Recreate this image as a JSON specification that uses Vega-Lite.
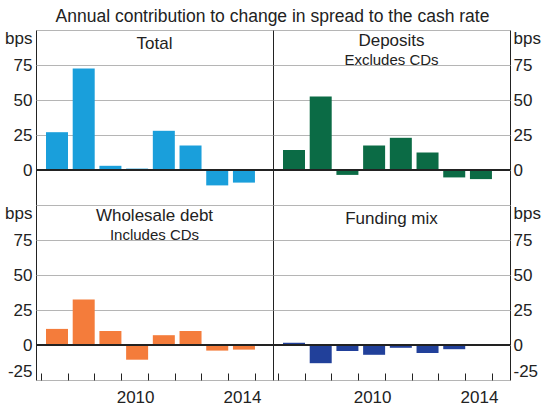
{
  "$schema": "https://vega.github.io/schema/vega-lite/v6.json",
  "padding": {"left": 4, "top": 8, "right": 5, "bottom": 0},
  "title": {"text": "Annual contribution to change in spread to the cash rate", "fontSize": 17.5, "anchor": "middle", "offset": 3},
  "datasets": {
    "bars": [
      {"panel": "Total", "year": 2007, "value": 27},
      {"panel": "Total", "year": 2008, "value": 72.5},
      {"panel": "Total", "year": 2009, "value": 3},
      {"panel": "Total", "year": 2010, "value": 1},
      {"panel": "Total", "year": 2011, "value": 28},
      {"panel": "Total", "year": 2012, "value": 17.5},
      {"panel": "Total", "year": 2013, "value": -11},
      {"panel": "Total", "year": 2014, "value": -9},
      {"panel": "Deposits", "year": 2007, "value": 14.3},
      {"panel": "Deposits", "year": 2008, "value": 52.5},
      {"panel": "Deposits", "year": 2009, "value": -3.5},
      {"panel": "Deposits", "year": 2010, "value": 17.5},
      {"panel": "Deposits", "year": 2011, "value": 23},
      {"panel": "Deposits", "year": 2012, "value": 12.5},
      {"panel": "Deposits", "year": 2013, "value": -5.3},
      {"panel": "Deposits", "year": 2014, "value": -6.5},
      {"panel": "Wholesale", "year": 2007, "value": 11.5},
      {"panel": "Wholesale", "year": 2008, "value": 32.5},
      {"panel": "Wholesale", "year": 2009, "value": 10},
      {"panel": "Wholesale", "year": 2010, "value": -10.5},
      {"panel": "Wholesale", "year": 2011, "value": 7},
      {"panel": "Wholesale", "year": 2012, "value": 10},
      {"panel": "Wholesale", "year": 2013, "value": -4},
      {"panel": "Wholesale", "year": 2014, "value": -3.3},
      {"panel": "Mix", "year": 2007, "value": 1.6},
      {"panel": "Mix", "year": 2008, "value": -13},
      {"panel": "Mix", "year": 2009, "value": -4.3},
      {"panel": "Mix", "year": 2010, "value": -7},
      {"panel": "Mix", "year": 2011, "value": -2},
      {"panel": "Mix", "year": 2012, "value": -5.7},
      {"panel": "Mix", "year": 2013, "value": -3},
      {"panel": "Mix", "year": 2014, "value": 0.3}
    ]
  },
  "data": {"name": "bars"},
  "columns": 2,
  "spacing": 0,
  "bounds": "flush",
  "concat": [
    {
      "width": 237, "height": 175,
      "title": {"text": "Total", "offset": -24},
      "transform": [{"filter": "datum.panel === 'Total'"}],
      "layer": [
        {
          "mark": {"type": "bar", "color": "#1a9fdb", "size": 22, "xOffset": 16},
          "encoding": {
            "x": {"field": "year", "type": "quantitative", "scale": {"domain": [2007, 2015.5], "nice": false, "zero": false}, "axis": null},
            "y": {"field": "value", "type": "quantitative", "scale": {"domain": [-25, 100], "nice": false, "zero": false},
                  "axis": {"orient": "left", "values": [0, 25, 50, 75, 100], "tickCount": 20, "labelExpr": "datum.value == 100 ? 'bps' : '' + datum.value", "labelFlush": true, "labelOverlap": false, "ticks": false, "domain": false, "grid": true, "title": null, "labelPadding": 4}}
          }
        },
        {"mark": {"type": "rule", "color": "#222", "strokeWidth": 1.2}, "encoding": {"y": {"datum": 0}}}
      ]
    },
    {
      "width": 237, "height": 175,
      "title": {"text": "Deposits", "subtitle": "Excludes CDs", "offset": -40},
      "transform": [{"filter": "datum.panel === 'Deposits'"}],
      "layer": [
        {
          "mark": {"type": "bar", "color": "#0b6b45", "size": 22, "xOffset": 16},
          "encoding": {
            "x": {"field": "year", "type": "quantitative", "scale": {"domain": [2007, 2015.5], "nice": false, "zero": false}, "axis": null},
            "y": {"field": "value", "type": "quantitative", "scale": {"domain": [-25, 100], "nice": false, "zero": false},
                  "axis": {"orient": "right", "values": [0, 25, 50, 75, 100], "tickCount": 20, "labelExpr": "datum.value == 100 ? 'bps' : '' + datum.value", "labelFlush": true, "labelOverlap": false, "ticks": false, "domain": false, "grid": true, "title": null, "labelPadding": 3}}
          }
        },
        {"mark": {"type": "rule", "color": "#222", "strokeWidth": 1.2}, "encoding": {"y": {"datum": 0}}}
      ]
    },
    {
      "width": 237, "height": 175,
      "title": {"text": "Wholesale debt", "subtitle": "Includes CDs", "offset": -40},
      "transform": [{"filter": "datum.panel === 'Wholesale'"}],
      "layer": [
        {
          "mark": {"type": "bar", "color": "#f47c3b", "size": 22, "xOffset": 16},
          "encoding": {
            "x": {"field": "year", "type": "quantitative", "scale": {"domain": [2007, 2015.5], "nice": false, "zero": false},
                  "axis": {"values": [2007, 2008, 2009, 2010, 2011, 2012, 2013, 2014, 2015], "tickCount": 20, "labelExpr": "datum.value == 2010 || datum.value == 2014 ? '' + datum.value : ''", "labelOffset": 14, "tickSize": -7, "domain": false, "grid": false, "labelPadding": 16, "title": null, "labelFlush": false, "labelOverlap": false}},
            "y": {"field": "value", "type": "quantitative", "scale": {"domain": [-25, 100], "nice": false, "zero": false},
                  "axis": {"orient": "left", "values": [-25, 0, 25, 50, 75, 100], "tickCount": 20, "labelExpr": "datum.value == 100 ? 'bps' : '' + datum.value", "labelFlush": true, "labelOverlap": false, "ticks": false, "domain": false, "grid": true, "title": null, "labelPadding": 4}}
          }
        },
        {"mark": {"type": "rule", "color": "#222", "strokeWidth": 1.2}, "encoding": {"y": {"datum": 0}}}
      ]
    },
    {
      "width": 237, "height": 175,
      "title": {"text": "Funding mix", "offset": -24},
      "transform": [{"filter": "datum.panel === 'Mix'"}],
      "layer": [
        {
          "mark": {"type": "bar", "color": "#21409a", "size": 22, "xOffset": 16},
          "encoding": {
            "x": {"field": "year", "type": "quantitative", "scale": {"domain": [2007, 2015.5], "nice": false, "zero": false},
                  "axis": {"values": [2007, 2008, 2009, 2010, 2011, 2012, 2013, 2014, 2015], "tickCount": 20, "labelExpr": "datum.value == 2010 || datum.value == 2014 ? '' + datum.value : ''", "labelOffset": 14, "tickSize": -7, "domain": false, "grid": false, "labelPadding": 16, "title": null, "labelFlush": false, "labelOverlap": false}},
            "y": {"field": "value", "type": "quantitative", "scale": {"domain": [-25, 100], "nice": false, "zero": false},
                  "axis": {"orient": "right", "values": [-25, 0, 25, 50, 75, 100], "tickCount": 20, "labelExpr": "datum.value == 100 ? 'bps' : '' + datum.value", "labelFlush": true, "labelOverlap": false, "ticks": false, "domain": false, "grid": true, "title": null, "labelPadding": 3}}
          }
        },
        {"mark": {"type": "rule", "color": "#222", "strokeWidth": 1.2}, "encoding": {"y": {"datum": 0}}}
      ]
    }
  ],
  "config": {
    "font": "Liberation Sans",
    "view": {"stroke": "#222", "strokeWidth": 1},
    "axis": {"labelFont": "Liberation Sans", "labelFontSize": 17, "labelColor": "#222", "tickColor": "#222", "gridColor": "#b5b5b5", "gridWidth": 1},
    "title": {"font": "Liberation Sans", "fontSize": 17, "fontWeight": "normal", "color": "#222", "subtitleFont": "Liberation Sans", "subtitleFontSize": 15, "subtitleColor": "#222", "subtitlePadding": 0}
  }
}
